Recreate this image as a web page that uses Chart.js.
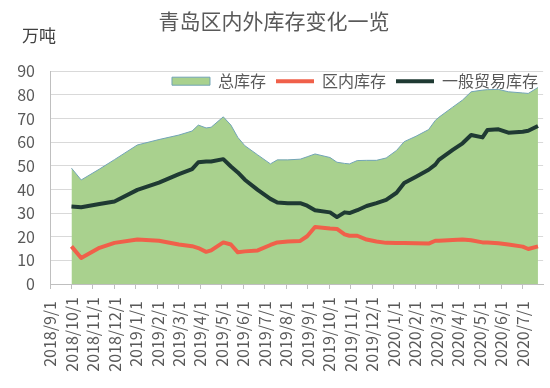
<!DOCTYPE html>
<html>
<head>
<meta charset="utf-8">
<script src="https://cdn.jsdelivr.net/npm/chart.js@4.4.0/dist/chart.umd.min.js"></script>
<style>
  html, body { margin: 0; padding: 0; background: #fff; }
</style>
</head>
<body>
<canvas id="chart" width="550" height="388"></canvas>
<script>
const monthLabels = [
  '2018/9/1', '2018/10/1', '2018/11/1', '2018/12/1',
  '2019/1/1', '2019/2/1', '2019/3/1', '2019/4/1', '2019/5/1', '2019/6/1',
  '2019/7/1', '2019/8/1', '2019/9/1', '2019/10/1', '2019/11/1', '2019/12/1',
  '2020/1/1', '2020/2/1', '2020/3/1', '2020/4/1', '2020/5/1', '2020/6/1', '2020/7/1',
]

const sampleDates = [
  '2018-10-01', '2018-10-15', '2018-11-10', '2018-12-01', '2019-01-03', '2019-02-03',
  '2019-03-01', '2019-03-20', '2019-03-29', '2019-04-09', '2019-04-16', '2019-05-03',
  '2019-05-14', '2019-05-24', '2019-06-03', '2019-06-21', '2019-07-09', '2019-07-19',
  '2019-08-03', '2019-08-21', '2019-08-31', '2019-09-11', '2019-10-02', '2019-10-12',
  '2019-10-23', '2019-10-30', '2019-11-10', '2019-11-23', '2019-12-07', '2019-12-21',
  '2020-01-05', '2020-01-16', '2020-02-02', '2020-02-19', '2020-02-28', '2020-03-04',
  '2020-03-24', '2020-04-07', '2020-04-19', '2020-05-05', '2020-05-12', '2020-05-28',
  '2020-06-11', '2020-07-01', '2020-07-09', '2020-07-23',
]

// 总库存
const totalStock = [
  49.0, 44.0, 48.6, 52.6, 58.8, 61.1,
  63.0, 64.7, 67.2, 66.0, 66.3, 70.7,
  67.2, 62.0, 58.5, 54.6, 50.8, 52.5,
  52.5, 52.8, 53.8, 55.0, 53.5, 51.5,
  51.0, 50.8, 52.2, 52.3, 52.3, 53.3,
  56.5, 60.2, 62.5, 65.3, 69.2, 70.5,
  74.8, 77.8, 81.3, 82.0, 82.2, 82.3,
  81.3, 80.8, 80.6, 83.1,
]

// 区内库存
const bondedStock = [
  15.9, 11.0, 15.3, 17.4, 18.8, 18.3,
  16.7, 16.0, 15.2, 13.6, 14.2, 17.6,
  16.7, 13.4, 13.8, 14.2, 16.5, 17.6,
  18.0, 18.2, 20.2, 24.1, 23.5, 23.3,
  21.0, 20.4, 20.4, 18.8, 18.0, 17.4,
  17.3, 17.3, 17.2, 17.1, 18.3, 18.3,
  18.6, 18.8, 18.5, 17.6, 17.6, 17.2,
  16.7, 15.8, 14.8, 15.9,
]

// 一般贸易库存
const generalTradeStock = [
  32.8, 32.5, 33.8, 34.9, 39.8, 42.9,
  46.5, 48.6, 51.5, 51.8, 51.8, 52.8,
  49.7, 47.2, 44.1, 39.8, 36.0, 34.5,
  34.2, 34.2, 33.1, 31.2, 30.3, 28.3,
  30.3, 30.0, 31.2, 33.0, 34.2, 35.6,
  38.6, 42.7, 45.4, 48.3, 50.5, 52.5,
  56.7, 59.5, 63.0, 62.0, 65.1, 65.4,
  64.0, 64.4, 64.8, 66.8,
]

const FONT = '"Noto Sans CJK SC", "Noto Sans", sans-serif'
const TEXT_COLOR = '#595959'

// months since 2018/9/1, so the x axis lines up with monthLabels
function monthPos(dateStr) {
  const [y, m, d] = dateStr.split('-').map(Number)
  const daysInMonth = new Date(y, m, 0).getDate()
  return (y - 2018) * 12 + (m - 9) + (d - 1) / daysInMonth
}

function toPoints(values) {
  return values.map((v, i) => ({ x: monthPos(sampleDates[i]), y: v }))
}

const unitLabel = {
  id: 'unitLabel',
  afterDraw(chart) {
    const { ctx } = chart
    ctx.save()
    ctx.font = '17px ' + FONT
    ctx.fillStyle = '#404040'
    ctx.textBaseline = 'middle'
    ctx.fillText('万吨', 22, 36)
    ctx.restore()
  },
}

// the legend sits inside the top of the plot, like the Excel original
const legendInPlot = {
  id: 'legendInPlot',
  afterLayout(chart) {
    const legend = chart.legend
    const h = legend.height
    legend.top = chart.chartArea.top - 8
    legend.bottom = legend.top + h
  },
}

const ctx = document.getElementById('chart').getContext('2d')

new Chart(ctx, {
  type: 'line',
  data: {
    datasets: [
      {
        label: '总库存',
        data: toPoints(totalStock),
        fill: 'origin',
        backgroundColor: '#a9d18e',
        borderColor: '#72a4b6',
        borderWidth: 1,
        pointStyle: 'rect',
      },
      {
        label: '区内库存',
        data: toPoints(bondedStock),
        fill: false,
        borderColor: '#f0604a',
        backgroundColor: '#f0604a',
        borderWidth: 4,
        pointStyle: 'line',
      },
      {
        label: '一般贸易库存',
        data: toPoints(generalTradeStock),
        fill: false,
        borderColor: '#1f3a33',
        backgroundColor: '#1f3a33',
        borderWidth: 4,
        pointStyle: 'line',
      },
    ],
  },
  options: {
    responsive: false,
    animation: false,
    layout: { padding: { left: 0, right: 2, top: 0, bottom: 0 } },
    elements: {
      point: { radius: 0, hoverRadius: 0 },
      line: { tension: 0, borderJoinStyle: 'round' },
    },
    scales: {
      x: {
        type: 'linear',
        min: 0,
        max: 22.95,
        afterFit(scale) { scale.height = 104 },
        border: { display: true, color: '#bfbfbf' },
        grid: { drawOnChartArea: false, drawTicks: true, tickLength: 5, color: '#bfbfbf' },
        ticks: {
          stepSize: 1,
          includeBounds: false,
          autoSkip: false,
          minRotation: 90,
          maxRotation: 90,
          padding: 8,
          color: TEXT_COLOR,
          font: { family: FONT, size: 16 },
          callback(value) {
            const label = monthLabels[value]
            if (!label) return ''
            return label.length < 9 ? label + '\u2005' : label
          },
        },
      },
      y: {
        min: 0,
        max: 90,
        afterFit(scale) { scale.width = 50 },
        border: { display: true, color: '#bfbfbf' },
        grid: { color: '#d9d9d9', drawTicks: false },
        ticks: {
          stepSize: 10,
          padding: 15,
          color: TEXT_COLOR,
          font: { family: FONT, size: 16 },
        },
      },
    },
    plugins: {
      filler: { drawTime: 'beforeDatasetsDraw' },
      tooltip: { enabled: false },
      title: {
        display: true,
        text: '青岛区内外库存变化一览',
        color: TEXT_COLOR,
        font: { family: FONT, size: 21, weight: 'normal' },
        padding: { top: 8, bottom: 2 },
      },
      legend: {
        position: 'top',
        align: 'end',
        labels: {
          usePointStyle: true,
          pointStyleWidth: 38,
          boxHeight: 8,
          padding: 10,
          color: TEXT_COLOR,
          font: { family: FONT, size: 16 },
        },
      },
    },
  },
  plugins: [unitLabel, legendInPlot],
})
</script>
</body>
</html>
